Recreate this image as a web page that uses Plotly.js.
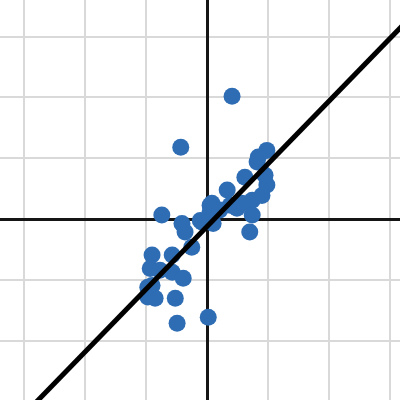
<!DOCTYPE html>
<html>
<head>
<meta charset="utf-8">
<script src="https://cdn.plot.ly/plotly-3.0.1.min.js"></script>
<style>html,body{margin:0;padding:0;background:#fff;}#chart{width:400px;height:400px;}</style>
</head>
<body>
<div id="chart"></div>
<script>
const pointsX = [0.41,-0.43,-0.74,-0.41,-0.36,-0.25,-0.90,-0.57,-0.93,-0.57,-0.39,-0.90,-0.97,-0.85,-0.52,-0.49,0.02,-0.08,0.10,0.05,0.98,0.84,0.82,0.62,0.98,0.90,0.74,0.33,0.08,0.05,0.49,0.74,0.70,-0.11,0.21,0.38,0.57,0.95,-0.77,-0.97];
const pointsY = [2.02,1.18,0.07,-0.07,-0.21,-0.46,-0.59,-0.59,-0.81,-0.87,-0.97,-1.09,-1.28,-1.30,-1.30,-1.71,-1.61,-0.05,-0.07,0.23,1.13,1.02,0.94,0.69,0.56,0.39,0.31,0.48,0.26,0.12,0.18,0.07,-0.21,-0.02,0.15,0.23,0.26,0.72,-0.84,-1.12];
const lineX = [-3.5, 3.5];
const lineY = [-3.73, 3.49];

const traces = [
  {x: pointsX, y: pointsY, type: 'scatter', mode: 'markers',
   marker: {color: '#2e6db4', size: 17}, hoverinfo: 'none'},
  {x: lineX, y: lineY, type: 'scatter', mode: 'lines',
   line: {color: '#000', width: 5}, hoverinfo: 'none'}
];
const axisCommon = {dtick: 1, tick0: 0, showticklabels: false, ticks: '',
  gridcolor: '#d9d9d9', gridwidth: 2, zeroline: true, zerolinecolor: '#151515',
  zerolinewidth: 3, showline: false};
const layout = {
  width: 400, height: 400, margin: {l:0, r:0, t:0, b:0},
  paper_bgcolor: '#fff', plot_bgcolor: '#fff', showlegend: false,
  xaxis: Object.assign({range: [-3.39, 3.16]}, axisCommon),
  yaxis: Object.assign({range: [-2.97, 3.6]}, axisCommon)
};
Plotly.newPlot('chart', traces, layout, {staticPlot: true, displayModeBar: false});
</script>
</body>
</html>
